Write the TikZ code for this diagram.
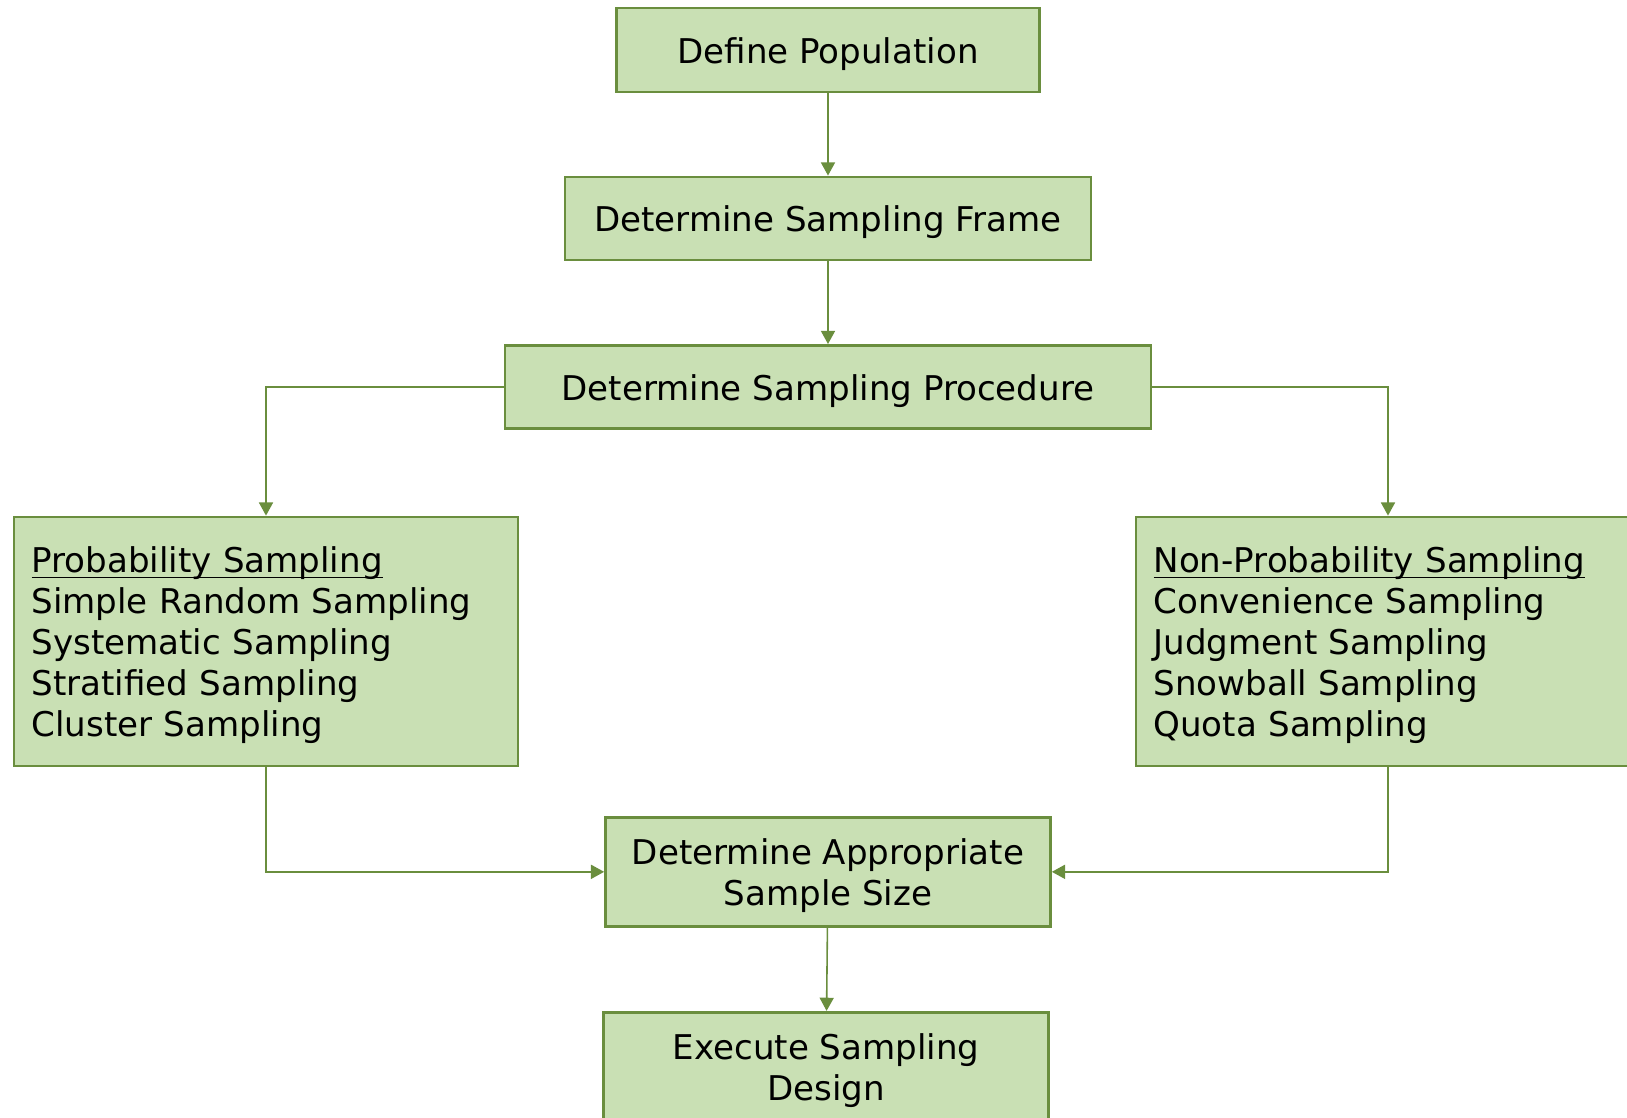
\documentclass[tikz,border=0pt]{standalone}
\usepackage{fontspec}
\setmainfont{DejaVu Sans}
\usetikzlibrary{arrows.meta,positioning}
\definecolor{boxfill}{HTML}{C9E0B4}
\definecolor{boxline}{HTML}{6A8E3E}
\newcommand{\headline}[1]{\setbox0\hbox{#1}\rlap{\rule[-0.17em]{\wd0}{0.045em}}#1}
\newcommand{\lift}{\rule{0pt}{19pt}}

\begin{document}
\begin{tikzpicture}[
            x=0.02cm,y=0.02cm,
            node distance=3.37cm,
            box/.style={rectangle,draw=boxline,line width=1.6pt,fill=boxfill,align=center,inner sep=0pt,font=\fontsize{19.4}{23.4}\selectfont},
            onebox/.style={box,text height=19pt},
            listbox/.style={onebox,align=left,inner xsep=0.35cm,text width=9.38cm,minimum height=4.98cm},
            link/.style={-{Triangle[width=8pt,length=7.5pt]},draw=boxline,line width=0.9pt}
        ]
            \clip (0,0) rectangle (1627,-1118);
            \node[onebox,minimum width=8.46cm,minimum height=1.68cm] (define) at (828,-50) {Define Population};
            \node[onebox,minimum width=10.52cm,minimum height=1.66cm,below of=define] (frame) {Determine Sampling Frame};
            \node[onebox,minimum width=12.92cm,minimum height=1.66cm,below of=frame] (procedure) {Determine Sampling Procedure};
            \node[listbox] (prob) at (266,-641.5) {\headline{Probability Sampling}\\Simple Random Sampling\\Systematic Sampling\\Stratified Sampling\\Cluster Sampling};
            \node[listbox] (nonprob) at (1388,-641.5) {\headline{Non-Probability Sampling}\\Convenience Sampling\\Judgment Sampling\\Snowball Sampling\\Quota Sampling};
            \node[box,minimum width=8.9cm,minimum height=2.18cm,below of=procedure,node distance=9.7cm] (size) {\lift Determine Appropriate\\Sample Size};
            \node[box,minimum width=8.9cm,minimum height=2.18cm,below of=size,node distance=3.9cm,xshift=-0.04cm] (execute) {\lift Execute Sampling\\Design};

            \draw[link] (define) -- (frame);
            \draw[link] (frame) -- (procedure);
            \draw[link] (procedure.west) -| (prob.north);
            \draw[link] (procedure.east) -| (nonprob.north);
            \draw[link] (prob.south) |- (size.west);
            \draw[link] (nonprob.south) |- (size.east);
            \draw[link] (size) -- (execute);
        \end{tikzpicture}
\end{document}
